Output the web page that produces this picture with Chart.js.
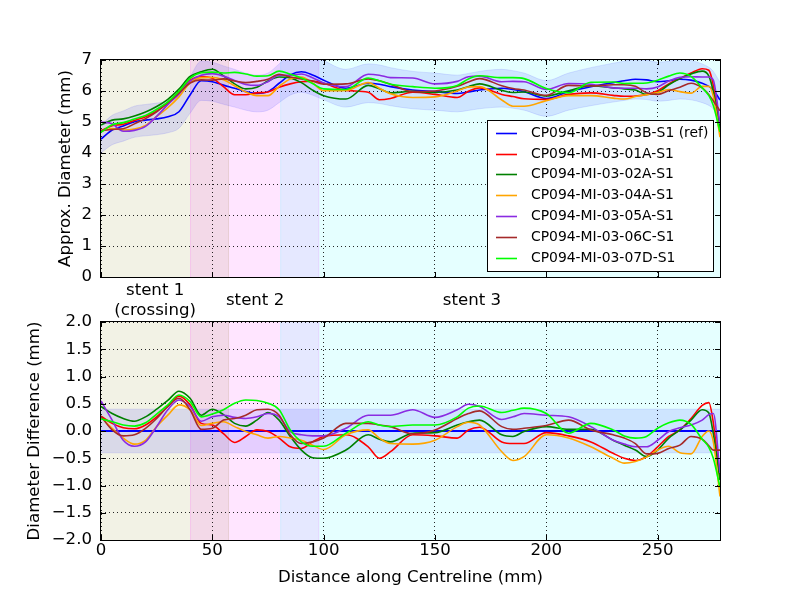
<!DOCTYPE html>
<html>
<head>
<meta charset="utf-8">
<script src="https://cdn.jsdelivr.net/npm/chart.js@4.4.1/dist/chart.umd.min.js"></script>
<style>
  html, body { margin: 0; padding: 0; background: #fff; }
  #wrap { position: relative; width: 800px; height: 600px; }
  canvas { position: absolute; left: 0; }
  #diameterChart { top: 0; }
  #differenceChart { top: 300px; }
</style>
</head>
<body>
<div id="wrap">
  <canvas id="diameterChart" width="800" height="322"></canvas>
  <canvas id="differenceChart" width="800" height="300"></canvas>
</div>
<script>
// distance along centreline (mm), shared by every series
const DIST = [0, 5, 10, 15, 20, 25, 30, 35, 40, 45,
  50, 55, 60, 65, 70, 75, 80, 85, 90, 95,
  100, 110, 120, 125, 130, 140, 150, 160, 165, 170,
  180, 185, 190, 200, 210, 220, 230, 235, 240, 245,
  250, 255, 260, 265, 270, 273, 275, 278];

// approx. diameter (mm)
const DIAM_03B = [4.45, 4.74, 4.87, 5.01, 5.06, 5.10, 5.17, 5.33, 5.87, 6.33,
  6.30, 6.19, 6.09, 5.98, 5.92, 5.98, 6.25, 6.52, 6.62, 6.52,
  6.35, 6.09, 6.25, 6.22, 6.14, 6.03, 5.98, 5.92, 5.97, 6.03,
  6.09, 6.05, 5.98, 5.76, 5.98, 6.14, 6.27, 6.33, 6.38, 6.36,
  6.30, 6.33, 6.38, 6.35, 6.25, 6.15, 6.03, 5.71];
const DIAM_01A = [4.72, 4.88, 4.93, 5.05, 5.17, 5.36, 5.62, 5.97, 6.35, 6.47,
  6.41, 6.14, 5.88, 5.88, 5.94, 5.97, 6.12, 6.23, 6.30, 6.32,
  6.25, 6.02, 5.96, 5.72, 5.76, 5.96, 5.89, 5.79, 5.99, 6.10,
  5.89, 5.82, 5.75, 5.73, 5.89, 5.94, 5.86, 5.83, 5.84, 5.89,
  6.01, 6.23, 6.40, 6.58, 6.72, 6.67, 6.18, 4.81];
const DIAM_02A = [4.90, 5.06, 5.10, 5.19, 5.32, 5.50, 5.73, 6.06, 6.47, 6.62,
  6.70, 6.49, 6.23, 6.07, 6.12, 6.32, 6.45, 6.42, 6.27, 6.03,
  5.85, 5.74, 6.18, 6.07, 5.94, 5.99, 5.95, 6.03, 6.14, 6.23,
  6.02, 5.95, 5.97, 5.84, 6.01, 6.17, 6.10, 6.07, 6.03, 5.89,
  5.95, 6.20, 6.40, 6.55, 6.64, 6.48, 5.98, 4.81];
const DIAM_04A = [4.70, 4.79, 4.74, 4.77, 4.89, 5.18, 5.46, 5.81, 6.26, 6.43,
  6.44, 6.36, 6.17, 5.97, 5.85, 5.85, 6.15, 6.39, 6.45, 6.26,
  6.01, 6.02, 6.27, 6.09, 5.91, 5.79, 5.81, 6.00, 6.13, 6.14,
  5.71, 5.51, 5.51, 5.69, 5.85, 5.85, 5.77, 5.74, 5.82, 5.88,
  5.95, 6.05, 5.98, 5.93, 6.15, 6.15, 5.83, 4.51];
const DIAM_05A = [5.00, 4.94, 4.70, 4.73, 4.86, 5.18, 5.56, 5.90, 6.32, 6.51,
  6.56, 6.48, 6.34, 6.21, 6.18, 6.30, 6.51, 6.51, 6.55, 6.43,
  6.26, 6.14, 6.54, 6.51, 6.43, 6.42, 6.23, 6.31, 6.46, 6.48,
  6.30, 6.31, 6.30, 6.05, 6.24, 6.22, 6.10, 6.09, 6.09, 6.07,
  6.13, 6.32, 6.44, 6.46, 6.45, 6.45, 6.35, 4.94];
const DIAM_06C = [4.72, 4.76, 4.78, 4.94, 5.11, 5.33, 5.62, 5.93, 6.26, 6.36,
  6.35, 6.39, 6.32, 6.27, 6.31, 6.38, 6.54, 6.45, 6.39, 6.32,
  6.22, 6.23, 6.39, 6.33, 6.22, 5.98, 6.00, 6.15, 6.29, 6.40,
  6.17, 6.08, 6.03, 5.86, 6.18, 6.16, 6.20, 6.20, 6.15, 5.94,
  5.89, 6.01, 6.12, 6.25, 6.10, 5.88, 5.68, 5.36];
const DIAM_07D = [4.67, 4.91, 4.98, 5.10, 5.21, 5.41, 5.65, 5.99, 6.41, 6.59,
  6.61, 6.58, 6.60, 6.55, 6.48, 6.49, 6.64, 6.54, 6.42, 6.24,
  6.07, 6.05, 6.42, 6.33, 6.22, 6.14, 6.09, 6.18, 6.39, 6.49,
  6.43, 6.43, 6.40, 6.08, 5.94, 6.28, 6.29, 6.24, 6.25, 6.26,
  6.35, 6.48, 6.58, 6.47, 6.10, 5.85, 5.53, 4.68];

// diameter difference to the reference (mm)
const DIFF_REF_X = [0, 278];
const DIFF_03B = [0, 0];
const DIFF_01A = [0.27, 0.14, 0.06, 0.04, 0.11, 0.26, 0.45, 0.64, 0.48, 0.14,
  0.11, -0.05, -0.21, -0.10, 0.02, -0.01, -0.13, -0.29, -0.32, -0.20,
  -0.10, -0.07, -0.29, -0.50, -0.38, -0.07, -0.09, -0.13, 0.02, 0.07,
  -0.20, -0.23, -0.23, -0.03, -0.09, -0.20, -0.41, -0.50, -0.54, -0.47,
  -0.29, -0.10, 0.02, 0.23, 0.47, 0.52, 0.15, -0.90];
const DIFF_02A = [0.45, 0.32, 0.23, 0.18, 0.26, 0.40, 0.56, 0.73, 0.60, 0.29,
  0.40, 0.30, 0.14, 0.09, 0.20, 0.34, 0.20, -0.10, -0.35, -0.49,
  -0.50, -0.35, -0.07, -0.15, -0.20, -0.04, -0.03, 0.11, 0.17, 0.20,
  -0.07, -0.10, -0.01, 0.08, 0.03, 0.03, -0.17, -0.26, -0.35, -0.47,
  -0.35, -0.13, 0.02, 0.20, 0.39, 0.33, -0.05, -0.90];
const DIFF_04A = [0.25, 0.05, -0.13, -0.24, -0.17, 0.08, 0.29, 0.48, 0.39, 0.10,
  0.14, 0.17, 0.08, -0.01, -0.07, -0.13, -0.10, -0.13, -0.17, -0.26,
  -0.34, -0.07, 0.02, -0.13, -0.23, -0.24, -0.17, 0.08, 0.16, 0.11,
  -0.38, -0.54, -0.47, -0.07, -0.13, -0.29, -0.50, -0.59, -0.56, -0.48,
  -0.35, -0.28, -0.40, -0.42, -0.10, 0.00, -0.20, -1.20];
const DIFF_05A = [0.55, 0.20, -0.17, -0.28, -0.20, 0.08, 0.39, 0.57, 0.45, 0.18,
  0.26, 0.29, 0.25, 0.23, 0.26, 0.32, 0.26, -0.01, -0.07, -0.09,
  -0.09, 0.05, 0.29, 0.29, 0.29, 0.39, 0.25, 0.39, 0.49, 0.45,
  0.21, 0.26, 0.32, 0.29, 0.26, 0.08, -0.17, -0.24, -0.29, -0.29,
  -0.17, -0.01, 0.06, 0.11, 0.20, 0.30, 0.32, -0.77];
const DIFF_06C = [0.27, 0.02, -0.09, -0.07, 0.05, 0.23, 0.45, 0.60, 0.39, 0.03,
  0.05, 0.20, 0.23, 0.29, 0.39, 0.40, 0.29, -0.07, -0.23, -0.20,
  -0.13, 0.14, 0.14, 0.11, 0.08, -0.05, 0.02, 0.23, 0.32, 0.37,
  0.08, 0.03, 0.05, 0.10, 0.20, 0.02, -0.07, -0.13, -0.23, -0.42,
  -0.41, -0.32, -0.26, -0.10, -0.15, -0.27, -0.35, -0.35];
const DIFF_07D = [0.22, 0.17, 0.11, 0.09, 0.15, 0.31, 0.48, 0.66, 0.54, 0.26,
  0.31, 0.39, 0.51, 0.57, 0.56, 0.51, 0.39, 0.02, -0.20, -0.28,
  -0.28, -0.04, 0.17, 0.11, 0.08, 0.11, 0.11, 0.26, 0.42, 0.46,
  0.34, 0.38, 0.42, 0.32, -0.04, 0.14, 0.02, -0.09, -0.13, -0.10,
  0.05, 0.15, 0.20, 0.12, -0.15, -0.30, -0.50, -1.03];

const SERIES_LABELS = ['CP094-MI-03-03B-S1 (ref)', 'CP094-MI-03-01A-S1', 'CP094-MI-03-02A-S1',
  'CP094-MI-03-04A-S1', 'CP094-MI-03-05A-S1', 'CP094-MI-03-06C-S1', 'CP094-MI-03-07D-S1'];
const SERIES_COLORS = ['#0000ff', '#ff0000', '#008000', '#ffa500', '#8a2be2', '#a52a2a', '#00ff00'];

// stent segments (mm)
const STENT_NAMES = [['stent 1', '(crossing)'], ['stent 2'], ['stent 3']];
const STENT_START = [-9, 40, 80.5];
const STENT_END = [57.5, 98, 278];
const STENT_TEXT_X = [24.3, 69.2, 166.6];
const STENT_COLORS = ['rgba(128,128,0,0.1)', 'rgba(255,0,255,0.1)', 'rgba(0,255,255,0.1)'];

const X_MAX = 278;
const X_TICKS = [0, 50, 100, 150, 200, 250];
const REF_BAND_FRACTION = 0.1;   // +-10% of the reference diameter
const DIFF_BAND = 0.4;           // +-0.4 mm
const BAND_COLOR = 'rgba(0,0,255,0.1)';

const FONT = '"DejaVu Sans", sans-serif';
const FONT_SIZE = 16.6;
const LINE_WIDTH = 1.6;

function points(xs, ys) {
  return ys.map((y, i) => ({ x: xs[i], y: y }));
}

function seriesDataset(label, xs, ys, color, i, width) {
  return {
    label: label,
    data: points(xs, ys),
    borderColor: color,
    borderWidth: width || LINE_WIDTH,
    pointRadius: 0,
    fill: false,
    cubicInterpolationMode: 'monotone',
    order: -i
  };
}

function bandDatasets(lower, upper) {
  return [
    { label: 'band-low', data: lower, borderColor: BAND_COLOR, borderWidth: 1, pointRadius: 0,
      fill: false, cubicInterpolationMode: 'monotone', order: 100 },
    { label: 'band-high', data: upper, borderColor: BAND_COLOR, borderWidth: 1, pointRadius: 0,
      backgroundColor: BAND_COLOR, fill: '-1', cubicInterpolationMode: 'monotone', order: 100 }
  ];
}

// shaded stent regions, below the grid
const stentShading = {
  id: 'stentShading',
  beforeDraw(chart) {
    const { ctx, chartArea: a, scales: { x } } = chart;
    ctx.save();
    STENT_START.forEach((start, i) => {
      const x0 = Math.max(a.left, x.getPixelForValue(start));
      const x1 = Math.min(a.right, x.getPixelForValue(STENT_END[i]));
      ctx.fillStyle = STENT_COLORS[i];
      ctx.fillRect(x0, a.top, x1 - x0, a.bottom - a.top);
      ctx.strokeStyle = STENT_COLORS[i];
      ctx.lineWidth = 1;
      ctx.beginPath();
      if (x0 > a.left) { ctx.moveTo(x0 + 0.5, a.top); ctx.lineTo(x0 + 0.5, a.bottom); }
      if (x1 < a.right) { ctx.moveTo(x1 - 0.5, a.top); ctx.lineTo(x1 - 0.5, a.bottom); }
      ctx.stroke();
    });
    ctx.restore();
  }
};

// matplotlib style frame with inward ticks
const frameTicks = {
  id: 'frameTicks',
  afterDraw(chart) {
    const { ctx, chartArea: a, scales: { x, y } } = chart;
    const len = 5;
    ctx.save();
    ctx.strokeStyle = '#000';
    ctx.lineWidth = 1;
    ctx.beginPath();
    X_TICKS.forEach(v => {
      const px = Math.round(x.getPixelForValue(v)) + 0.5;
      ctx.moveTo(px, a.bottom); ctx.lineTo(px, a.bottom - len);
      ctx.moveTo(px, a.top); ctx.lineTo(px, a.top + len);
    });
    y.ticks.forEach(t => {
      const py = Math.round(y.getPixelForValue(t.value)) + 0.5;
      ctx.moveTo(a.left, py); ctx.lineTo(a.left + len, py);
      ctx.moveTo(a.right, py); ctx.lineTo(a.right - len, py);
    });
    ctx.stroke();
    ctx.strokeRect(a.left - 0.5, a.top - 0.5, a.right - a.left + 1, a.bottom - a.top + 1);
    ctx.restore();
  }
};

const legendBox = {
  id: 'legendBox',
  afterDraw(chart) {
    const { ctx, chartArea: a } = chart;
    const w = 226, h = 151, rowH = 20.8;
    const x0 = a.right - 7 - w, y0 = a.bottom - 6 - h;
    ctx.save();
    ctx.fillStyle = '#fff';
    ctx.fillRect(x0, y0, w, h);
    ctx.strokeStyle = '#000';
    ctx.lineWidth = 1;
    ctx.strokeRect(x0 + 0.5, y0 + 0.5, w, h);
    ctx.font = '13.9px ' + FONT;
    ctx.textBaseline = 'middle';
    SERIES_LABELS.forEach((label, i) => {
      const ly = Math.round(y0 + 12.7 + i * rowH) + 0.5;
      ctx.strokeStyle = SERIES_COLORS[i];
      ctx.lineWidth = LINE_WIDTH;
      ctx.beginPath();
      ctx.moveTo(x0 + 9, ly);
      ctx.lineTo(x0 + 30, ly);
      ctx.stroke();
      ctx.fillStyle = '#000';
      ctx.fillText(label, x0 + 44, ly);
    });
    ctx.restore();
  }
};

const stentLabels = {
  id: 'stentLabels',
  afterDraw(chart) {
    const { ctx, scales: { x } } = chart;
    ctx.save();
    ctx.font = FONT_SIZE + 'px ' + FONT;
    ctx.fillStyle = '#000';
    ctx.textAlign = 'center';
    ctx.textBaseline = 'alphabetic';
    STENT_NAMES.forEach((lines, i) => {
      const px = x.getPixelForValue(STENT_TEXT_X[i]);
      const base = 305 - (lines.length - 1) * 10;
      lines.forEach((txt, j) => ctx.fillText(txt, px, base + j * 20));
    });
    ctx.restore();
  }
};

function xScale(showLabels, height) {
  return {
    type: 'linear',
    min: 0,
    max: X_MAX,
    afterBuildTicks: s => { s.ticks = X_TICKS.map(v => ({ value: v })); },
    afterFit: s => { s.height = height; },
    ticks: { display: showLabels, padding: 1, color: '#000', maxRotation: 0,
      font: { family: FONT, size: FONT_SIZE } },
    title: { display: showLabels, text: 'Distance along Centreline (mm)', color: '#000',
      font: { family: FONT, size: FONT_SIZE }, padding: { top: 0, bottom: 12 } },
    grid: { color: 'rgba(0,0,0,0.85)', lineWidth: 1, drawTicks: false },
    border: { display: false, dash: [1, 3] }
  };
}

function yScale(min, max, step, title, titlePad, fmt) {
  return {
    min: min,
    max: max,
    afterFit: s => { s.width = 101; },
    ticks: { stepSize: step, padding: 9, color: '#000', callback: fmt,
      font: { family: FONT, size: FONT_SIZE } },
    title: { display: true, text: title, color: '#000',
      font: { family: FONT, size: FONT_SIZE }, padding: { top: titlePad, bottom: 0 } },
    grid: { color: 'rgba(0,0,0,0.85)', lineWidth: 1, drawTicks: false },
    border: { display: false, dash: [1, 3] }
  };
}

const commonOptions = {
  responsive: false,
  animation: false,
  devicePixelRatio: 1,
  plugins: { legend: { display: false }, tooltip: { enabled: false } }
};

// top: approx. diameter
const diamSeries = [DIAM_03B, DIAM_01A, DIAM_02A, DIAM_04A, DIAM_05A, DIAM_06C, DIAM_07D];
const refLow = points(DIST, DIAM_03B.map(v => v * (1 - REF_BAND_FRACTION)));
const refHigh = points(DIST, DIAM_03B.map(v => v * (1 + REF_BAND_FRACTION)));

new Chart(document.getElementById('diameterChart'), {
  type: 'line',
  data: {
    datasets: bandDatasets(refLow, refHigh).concat(
      diamSeries.map((ys, i) => seriesDataset(SERIES_LABELS[i], DIST, ys, SERIES_COLORS[i], i)))
  },
  options: Object.assign({}, commonOptions, {
    layout: { padding: { left: 0, top: 60, right: 80, bottom: 0 } },
    scales: {
      x: xScale(false, 45),
      y: yScale(0, 7, 1, 'Approx. Diameter (mm)', 56, v => String(v))
    }
  }),
  plugins: [stentShading, frameTicks, legendBox, stentLabels]
});

// bottom: diameter difference
const diffSeries = [DIFF_01A, DIFF_02A, DIFF_04A, DIFF_05A, DIFF_06C, DIFF_07D];
const diffLow = points(DIFF_REF_X, [-DIFF_BAND, -DIFF_BAND]);
const diffHigh = points(DIFF_REF_X, [DIFF_BAND, DIFF_BAND]);

new Chart(document.getElementById('differenceChart'), {
  type: 'line',
  data: {
    datasets: bandDatasets(diffLow, diffHigh)
      .concat([seriesDataset(SERIES_LABELS[0], DIFF_REF_X, DIFF_03B, SERIES_COLORS[0], 0, 1.8)])
      .concat(diffSeries.map((ys, i) =>
        seriesDataset(SERIES_LABELS[i + 1], DIST, ys, SERIES_COLORS[i + 1], i + 1)))
  },
  options: Object.assign({}, commonOptions, {
    layout: { padding: { left: 0, top: 22, right: 80, bottom: 0 } },
    scales: {
      x: xScale(true, 60),
      y: yScale(-2, 2, 0.5, 'Diameter Difference (mm)', 25,
        v => (v < 0 ? '\u2212' : '') + Math.abs(v).toFixed(1))
    }
  }),
  plugins: [stentShading, frameTicks]
});
</script>
</body>
</html>
